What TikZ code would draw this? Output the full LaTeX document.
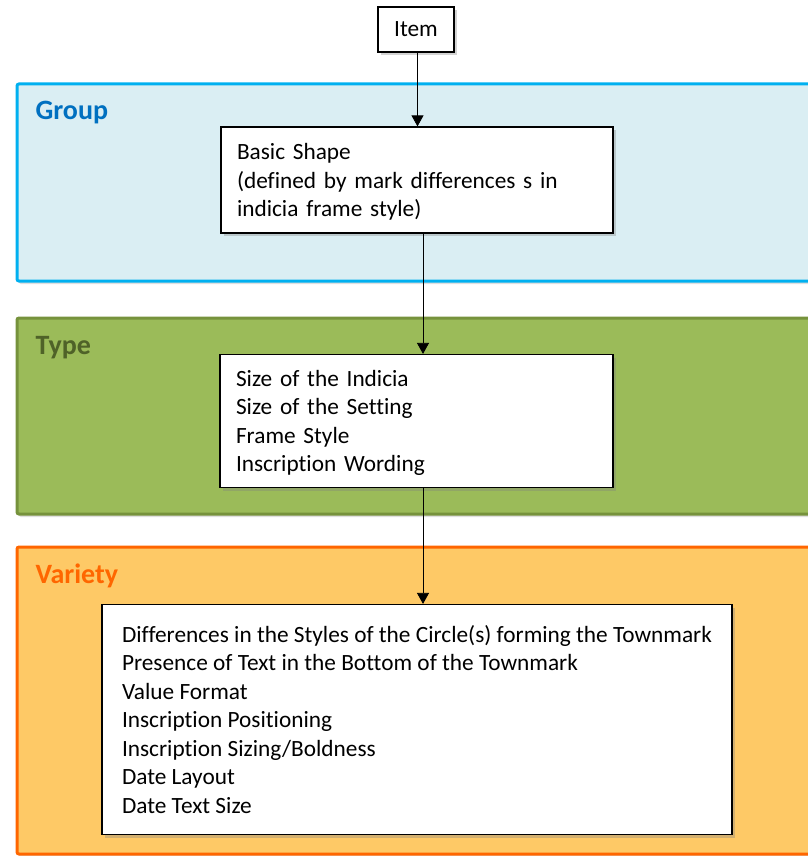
\documentclass[tikz,border=0pt]{standalone}
\usepackage{fontspec}
\setmainfont[Ligatures=NoCommon]{Carlito}
\usetikzlibrary{arrows.meta,shadows}
\definecolor{groupfill}{RGB}{218,238,243}
\definecolor{groupline}{RGB}{0,176,240}
\definecolor{grouptext}{RGB}{0,112,192}
\definecolor{typefill}{RGB}{155,187,89}
\definecolor{typeline}{RGB}{118,146,60}
\definecolor{typetext}{RGB}{79,98,40}
\definecolor{varfill}{RGB}{254,201,102}
\definecolor{varline}{RGB}{255,102,0}
\tikzset{
  panel/.style={line width=3pt, rounded corners=2pt,
    drop shadow={shadow xshift=2pt, shadow yshift=-3pt, opacity=.25}},
  paneltitle/.style={anchor=base west, font=\fontsize{28}{34}\selectfont\bfseries},
  infobox/.style={draw, line width=1.2pt, fill=white, align=left,
    inner xsep=16pt, inner ysep=0pt,
    font=\fontsize{23.3}{28.5}\selectfont,
    drop shadow={shadow xshift=3pt, shadow yshift=-3pt, opacity=.35}},
  link/.style={-{Triangle[length=11pt, width=12pt]}, line width=.8pt}
}

\begin{document}
\begin{tikzpicture}[x=1pt, y=-1pt]
\useasboundingbox (0,0) rectangle (807,856);
% panels
\draw[panel, draw=groupline, fill=groupfill] (17,84) rectangle (840,281);
\draw[panel, draw=typeline, fill=typefill] (17,318) rectangle (840,514);
\draw[panel, draw=varline, fill=varfill] (17,547) rectangle (840,854);
\node[paneltitle, text=grouptext] (grouptitle) at (32,120) {Group};
\node[paneltitle, text=typetext] (typetitle) at (32,354) {Type};
\node[paneltitle, text=varline] (vartitle) at (32,583) {Variety};
% boxes
\node[infobox, inner xsep=0pt, minimum width=76pt, minimum height=45pt] (item) at (416,29.5) {Item};
\node[infobox, text width=360pt, minimum height=106pt] (basic) at (417,180) {%
  \raisebox{0pt}[\height][\depth]{}Basic Shape\\(defined by mark differences s in\\indicia frame style)\vspace{-4pt}};
\node[infobox, text width=361pt, minimum height=133pt] (type) at (416.5,421) {%
  Size of the Indicia\\Size of the Setting\\Frame Style\\Inscription Wording\vspace{-4pt}};
\node[infobox, minimum width=630pt, minimum height=230pt] (variety) at (417,719.5)
  {Differences in the Styles of the Circle(s) forming the Townmark\\
   Presence of Text in the Bottom of the Townmark\\Value Format\\
   Inscription Positioning\\Inscription Sizing/Boldness\\Date Layout\\Date Text Size};
% links
\draw[link] ([xshift=1.5pt]item.south) -- ([xshift=1.5pt]item.south |- basic.north);
\draw[link] ([xshift=6pt]basic.south) -- ([xshift=6pt]basic.south |- type.north);
\draw[link] ([xshift=6.5pt]type.south) -- ([xshift=6.5pt]type.south |- variety.north);
\end{tikzpicture}
\end{document}
